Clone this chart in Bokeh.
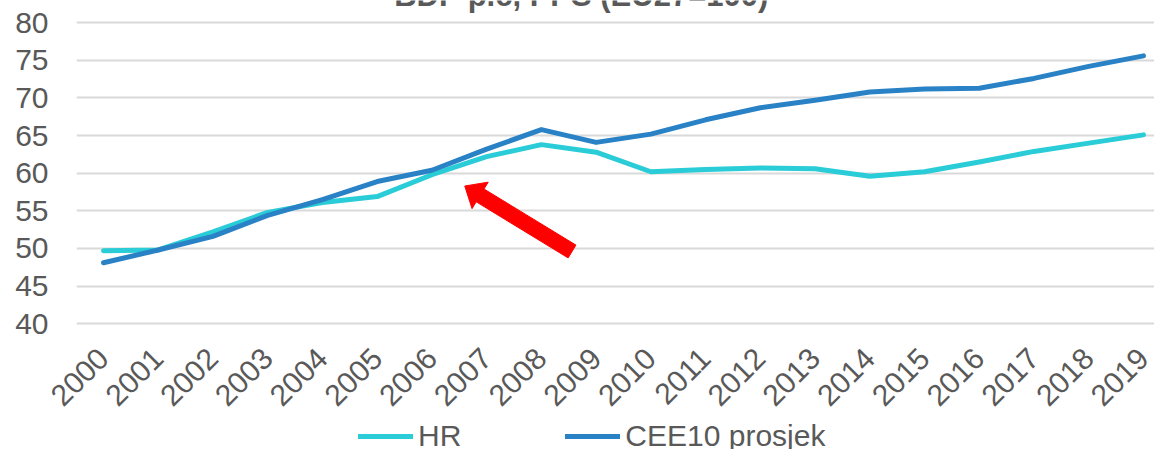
import math
from bokeh.plotting import figure
from bokeh.layouts import column
from bokeh.models import Range1d, FixedTicker, Legend, LegendItem, Label
from bokeh.embed import file_html
from bokeh.resources import INLINE

# ---------------- data ----------------
years = list(range(2000, 2020))
hr = [49.7, 49.8, 52.2, 54.8, 56.1, 56.9, 59.8, 62.2, 63.8, 62.8,
      60.2, 60.5, 60.7, 60.6, 59.6, 60.2, 61.5, 62.9, 64.0, 65.1]
cee10 = [48.1, 49.8, 51.6, 54.4, 56.5, 58.9, 60.4, 63.2, 65.8, 64.1,
         65.2, 67.1, 68.7, 69.7, 70.8, 71.2, 71.3, 72.6, 74.2, 75.6]
series_names = ["HR", "CEE10 prosjek"]
y_ticks = [40, 45, 50, 55, 60, 65, 70, 75, 80]
title_text = "BDP p.c, PPS (EU27=100)"

# arrow annotation (tail -> tip), in data units
arrow_tail = (2008.56, 49.6)
arrow_tip = (2006.6, 58.3)

# ---------------- style ----------------
FONT = "Liberation Sans"
TXT = "#595959"
C_HR = "#2ACCD7"
C_CEE = "#2A82C6"

W, H = 1154, 424
H_LEG = 25
BL, BR, BT, BB = 76, 0, 0, 97
fw = W - BL - BR
fh = H - BT - BB
x_start, x_end = 1999.507, 2019.201
ppy = (323.7 - 22.7) / 40.0          # pixels per y unit (gridline 80 at 22.7px)
y_start = 39.5
y_end = y_start + fh / ppy

p = figure(width=W, height=H, output_backend="svg", toolbar_location=None,
           x_range=Range1d(x_start, x_end), y_range=Range1d(y_start, y_end),
           min_border_left=BL, min_border_right=BR, min_border_top=BT,
           min_border_bottom=BB, background_fill_color="white",
           border_fill_color="white")
p.outline_line_color = None
p.xgrid.grid_line_color = None
p.ygrid.grid_line_color = "#D9D9D9"
p.ygrid.grid_line_width = 2
p.ygrid.ticker = FixedTicker(ticks=y_ticks)

# axes
p.yaxis.ticker = FixedTicker(ticks=y_ticks)
p.xaxis.ticker = FixedTicker(ticks=years)
for ax in (p.xaxis[0], p.yaxis[0]):
    ax.axis_line_color = None
    ax.major_tick_line_color = None
    ax.minor_tick_line_color = None
    ax.major_tick_out = 0
    ax.major_tick_in = 0
    ax.minor_tick_out = 0
    ax.major_label_text_font = FONT
    ax.major_label_text_font_size = "30px"
    ax.major_label_text_color = TXT
p.yaxis.major_label_standoff = 28
p.xaxis.major_label_standoff = 26
p.xaxis.major_label_orientation = math.pi / 4

# lines
line_kw = dict(line_width=5, line_cap="round", line_join="round")
p.line(years, hr, line_color=C_HR, **line_kw)
p.line(years, cee10, line_color=C_CEE, **line_kw)

# pixel <-> data scale of the plot frame
pxx = fw / (x_end - x_start)
pxy = fh / (y_end - y_start)

# arrow drawn as a polygon, geometry in pixels converted to data units
tx, ty = arrow_tip[0] * pxx, arrow_tip[1] * pxy
ax_, ay_ = arrow_tail[0] * pxx, arrow_tail[1] * pxy
dx, dy = ax_ - tx, ay_ - ty
L = math.hypot(dx, dy)
ux, uy = dx / L, dy / L
nx, ny = -uy, ux
head_len, head_w, shaft_w = 18, 31, 15
bx, by = tx + ux * head_len, ty + uy * head_len
pts = [
    (tx, ty),
    (bx + nx * head_w / 2, by + ny * head_w / 2),
    (bx + nx * shaft_w / 2, by + ny * shaft_w / 2),
    (ax_ + nx * shaft_w / 2, ay_ + ny * shaft_w / 2),
    (ax_ - nx * shaft_w / 2, ay_ - ny * shaft_w / 2),
    (bx - nx * shaft_w / 2, by - ny * shaft_w / 2),
    (bx - nx * head_w / 2, by - ny * head_w / 2),
]
p.patch([q[0] / pxx for q in pts], [q[1] / pxy for q in pts],
        fill_color="#FF0000", line_color="#FF0000", line_width=1)

# chart title, only its lower edge visible at the very top (as in the source)
title_x = x_start + (581 - BL) / pxx
title_y = y_end - (-5.5 - BT) / pxy
p.add_layout(Label(x=title_x, y=title_y, text=title_text, text_font=FONT,
                   text_font_size="31px", text_font_style="bold",
                   text_color=TXT, text_align="center",
                   text_baseline="alphabetic"))

# ---------------- legend strip below the chart ----------------
p2 = figure(width=W, height=H_LEG, output_backend="svg", toolbar_location=None,
            x_range=Range1d(0, 1), y_range=Range1d(0, 1),
            x_axis_location=None, y_axis_location=None,
            min_border_left=0, min_border_right=0, min_border_top=0,
            min_border_bottom=0, background_fill_color="white",
            border_fill_color="white")
p2.outline_line_color = None
p2.grid.visible = False
# same series (outside this strip's ranges, so only their legend keys show)
l_hr = p2.line(years, hr, line_color=C_HR, **line_kw)
l_cee = p2.line(years, cee10, line_color=C_CEE, **line_kw)
legend = Legend(items=[LegendItem(label=series_names[0], renderers=[l_hr]),
                       LegendItem(label=series_names[1], renderers=[l_cee])],
                orientation="horizontal", location=(358 - BL, -4),
                glyph_width=55, glyph_height=34, label_height=34,
                label_standoff=5, spacing=104, padding=0, margin=0,
                border_line_color=None, background_fill_alpha=0,
                label_text_font=FONT, label_text_font_size="30px",
                label_text_color=TXT)
p2.add_layout(legend, "center")

layout = column(p, p2, spacing=0)
open("out.html", "w").write(file_html(layout, INLINE))
